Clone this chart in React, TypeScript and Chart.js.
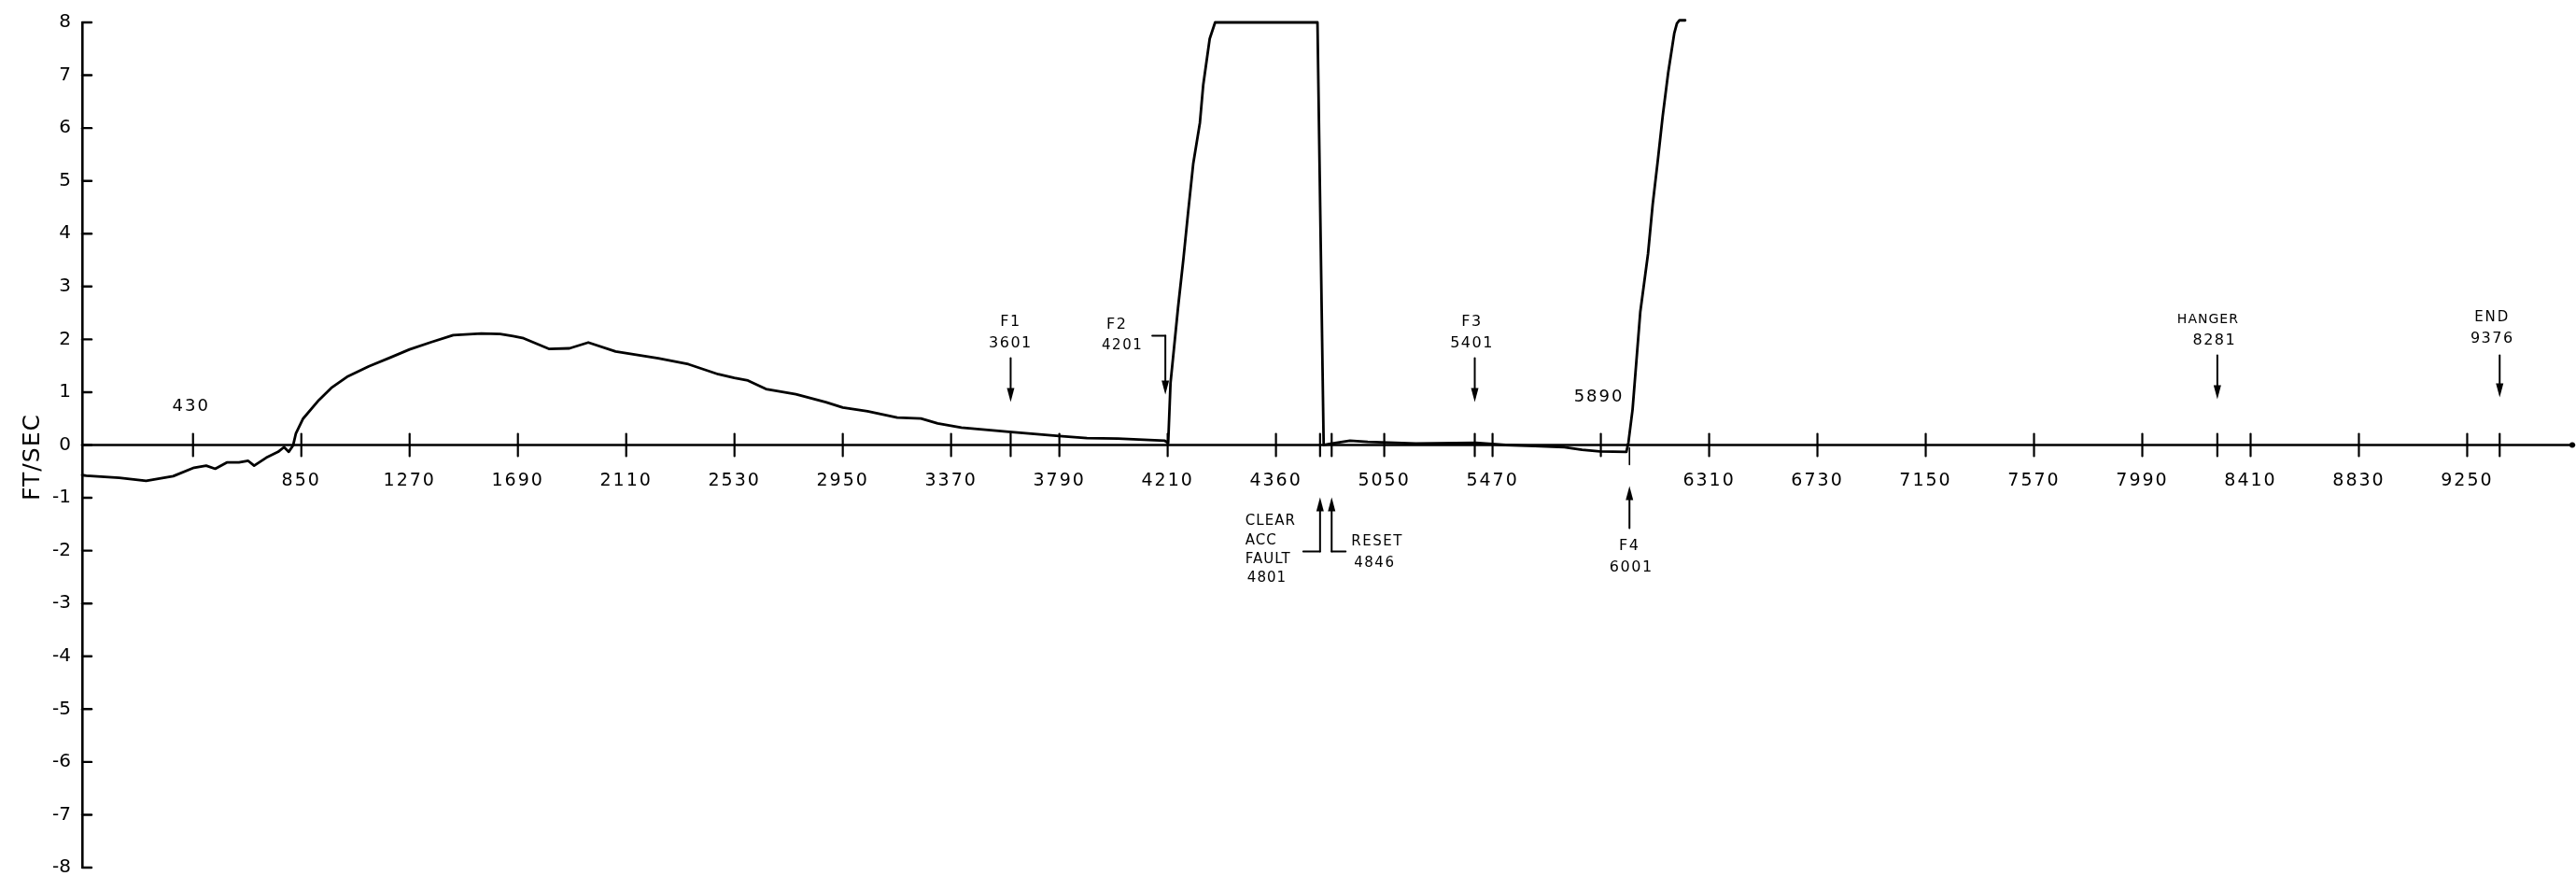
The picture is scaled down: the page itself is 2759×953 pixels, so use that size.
import { useEffect, useRef } from "react";
import { Chart, registerables } from "chart.js";

Chart.register(...registerables);

// Recorded speed (FT/SEC) against count
const counts = [
  0, 16, 144, 248, 353, 434, 481, 516, 561, 608, 644, 667, 714, 760, 783, 801, 818, 829, 857, 918,
  966, 1027, 1112, 1197, 1270, 1355, 1439, 1548, 1621, 1671, 1712, 1810, 1890, 1963, 2069, 2234,
  2351, 2467, 2529, 2582, 2652, 2768, 2884, 2950, 3046, 3161, 3253, 3318, 3410, 3594, 3789, 3897,
  4017, 4199, 4212, 4221, 4250, 4271, 4289, 4309, 4335, 4348, 4373, 4394, 4791, 4815, 4836, 4917,
  4986, 5172, 5405, 5520, 5634, 5749, 5817, 5886, 5989, 5997, 6013, 6043, 6073, 6091, 6111, 6130,
  6151, 6175, 6185, 6195, 6217,
];
const speed = [
  -0.57, -0.58, -0.62, -0.68, -0.59, -0.43, -0.39, -0.45, -0.33, -0.33, -0.3, -0.39, -0.24, -0.13,
  -0.04, -0.13, -0.01, 0.22, 0.5, 0.85, 1.08, 1.29, 1.49, 1.66, 1.81, 1.95, 2.08, 2.11, 2.1, 2.06,
  2.02, 1.82, 1.83, 1.94, 1.77, 1.64, 1.53, 1.34, 1.27, 1.22, 1.06, 0.96, 0.81, 0.71, 0.64, 0.52,
  0.5, 0.41, 0.33, 0.25, 0.17, 0.13, 0.12, 0.08, 0.04, 1.17, 2.59, 3.52, 4.39, 5.32, 6.1, 6.82,
  7.69, 8.0, 8.0, 0.0, 0.02, 0.08, 0.06, 0.03, 0.04, 0.0, -0.02, -0.04, -0.09, -0.12, -0.13, 0.05,
  0.67, 2.52, 3.62, 4.55, 5.39, 6.23, 7.04, 7.8, 7.98, 8.04, 8.04,
];

// Numbered marks along the zero line, with the numbers as written
const tickCounts = [
  430, 850, 1270, 1690, 2110, 2530, 2950, 3370, 3790, 4210, 4630, 5050, 5470, 5890, 6310, 6730,
  7150, 7570, 7990, 8410, 8830, 9250,
];
const tickLabels = [
  "430", "850", "1270", "1690", "2110", "2530", "2950", "3370", "3790", "4210", "4360", "5050",
  "5470", "5890", "6310", "6730", "7150", "7570", "7990", "8410", "8830", "9250",
];
// Numbers written above the line instead of below
const raisedLabels = ["430", "5890"];

// Noted events along the run
const eventNames = ["F1", "F2", "CLEAR ACC FAULT", "RESET", "F3", "F4", "HANGER", "END"];
const eventCounts = [3601, 4201, 4801, 4846, 5401, 6001, 8281, 9376];

const yMin = -8;
const yMax = 8;
const countMax = 9672;

const W = 2759;
const H = 953;
const INK = "#000";
const FONT = '"DejaVu Sans", sans-serif';

function seg(ctx: CanvasRenderingContext2D, x1: number, y1: number, x2: number, y2: number) {
  ctx.beginPath();
  ctx.moveTo(x1, y1);
  ctx.lineTo(x2, y2);
  ctx.stroke();
}

function text(
  ctx: CanvasRenderingContext2D,
  s: string,
  x: number,
  y: number,
  size: number,
  align: CanvasTextAlign = "center",
  spacing = 1.5,
) {
  ctx.font = `${size}px ${FONT}`;
  (ctx as any).letterSpacing = `${spacing}px`;
  ctx.textAlign = align;
  ctx.textBaseline = "middle";
  ctx.fillText(s, x, y);
}

// arrow shaft from (x, y1) ending in a filled head at (x, tip)
function arrow(ctx: CanvasRenderingContext2D, x: number, y1: number, tip: number) {
  const dir = tip > y1 ? 1 : -1;
  ctx.lineWidth = 2;
  seg(ctx, x, y1, x, tip - dir * 10);
  ctx.beginPath();
  ctx.moveTo(x - 4, tip - dir * 15);
  ctx.lineTo(x + 4, tip - dir * 15);
  ctx.lineTo(x, tip);
  ctx.closePath();
  ctx.fill();
}

function drawEvent(ctx: CanvasRenderingContext2D, name: string, count: number, px: number, y0: number) {
  const num = String(count);
  ctx.lineWidth = 2;
  switch (name) {
    case "F1":
    case "F3": {
      const dx = name === "F1" ? 0 : -3;
      text(ctx, name, px + dx, y0 - 132, 16);
      text(ctx, num, px + dx, y0 - 109, 16);
      arrow(ctx, px, y0 - 93, y0 - 46);
      break;
    }
    case "F2": {
      text(ctx, name, px - 52, y0 - 129, 16);
      text(ctx, num, px - 46, y0 - 106, 15);
      seg(ctx, px - 14, y0 - 117, px, y0 - 117);
      arrow(ctx, px, y0 - 117, y0 - 54);
      break;
    }
    case "F4": {
      text(ctx, name, px, y0 + 108, 16);
      text(ctx, num, px + 2, y0 + 131, 16);
      arrow(ctx, px, y0 + 89, y0 + 44);
      break;
    }
    case "CLEAR ACC FAULT": {
      const lines = name.split(" ");
      lines.forEach((l, i) => text(ctx, l, px - 80, y0 + 82 + i * 20.5, 15, "left", 1));
      text(ctx, num, px - 78, y0 + 143, 15, "left", 1);
      seg(ctx, px - 18, y0 + 114, px, y0 + 114);
      arrow(ctx, px, y0 + 114, y0 + 56);
      break;
    }
    case "RESET": {
      text(ctx, name, px + 21, y0 + 104, 15, "left", 1.5);
      text(ctx, num, px + 24, y0 + 127, 15, "left", 1.5);
      seg(ctx, px + 15, y0 + 114, px, y0 + 114);
      arrow(ctx, px, y0 + 114, y0 + 56);
      break;
    }
    case "HANGER": {
      text(ctx, name, px - 10, y0 - 134, 14, "center", 1);
      text(ctx, num, px - 3, y0 - 112, 16);
      arrow(ctx, px, y0 - 96, y0 - 49);
      break;
    }
    case "END": {
      text(ctx, name, px - 8, y0 - 136, 15, "center", 2);
      text(ctx, num, px - 8, y0 - 114, 16);
      arrow(ctx, px, y0 - 96, y0 - 51);
      break;
    }
  }
}

const axisDecor = {
  id: "axisDecor",
  afterDatasetsDraw(chart: any) {
    const { ctx, chartArea, scales } = chart;
    const x = scales.x;
    const y = scales.y;
    const y0 = y.getPixelForValue(0);
    ctx.save();
    ctx.strokeStyle = INK;
    ctx.fillStyle = INK;
    ctx.lineCap = "round";

    // zero line running the full width
    ctx.lineWidth = 2.6;
    seg(ctx, chartArea.left, y0, chartArea.right - 2, y0);
    ctx.beginPath();
    ctx.arc(chartArea.right - 4, y0, 3, 0, Math.PI * 2);
    ctx.fill();

    // crossing marks for numbered counts and events
    ctx.lineWidth = 2.2;
    const crossing = [...tickCounts, ...eventCounts.filter((c) => c !== 4201 && c !== 6001)];
    crossing.forEach((c) => {
      const px = x.getPixelForValue(c);
      seg(ctx, px, y0 - 12, px, y0 + 12);
    });
    // half mark under the line at F4
    const f4 = x.getPixelForValue(eventCounts[eventNames.indexOf("F4")]);
    ctx.lineWidth = 1.6;
    seg(ctx, f4, y0 + 3, f4, y0 + 21);

    // inward marks on the speed axis
    ctx.lineWidth = 2.4;
    for (let k = yMin; k <= yMax; k++) {
      const py = y.getPixelForValue(k);
      seg(ctx, chartArea.left, py, chartArea.left + 10, py);
    }

    // count numbers
    tickCounts.forEach((c, i) => {
      const px = x.getPixelForValue(c);
      const label = tickLabels[i];
      if (raisedLabels.includes(label)) {
        text(ctx, label, px - 2, label === "430" ? y0 - 41 : y0 - 51, 18, "center", 2);
      } else {
        text(ctx, label, px, y0 + 39, 19, "center", 2);
      }
    });

    // event callouts
    eventNames.forEach((name, i) => {
      drawEvent(ctx, name, eventCounts[i], x.getPixelForValue(eventCounts[i]), y0);
    });

    // unit caption
    ctx.save();
    ctx.translate(35, y0 + 13);
    ctx.rotate(-Math.PI / 2);
    text(ctx, "FT/SEC", 0, 0, 25, "center", 1);
    ctx.restore();

    ctx.restore();
  },
};

export default function App() {
  const ref = useRef<HTMLCanvasElement>(null);

  useEffect(() => {
    const canvas = ref.current;
    if (!canvas) return;
    Chart.defaults.color = INK;
    const chart = new Chart(canvas, {
      type: "line",
      data: {
        datasets: [
          {
            data: counts.map((c, i) => ({ x: c, y: speed[i] })),
            borderColor: INK,
            borderWidth: 2.8,
            pointRadius: 0,
            tension: 0,
            clip: false as any,
            borderJoinStyle: "round",
            borderCapStyle: "round",
          },
        ],
      },
      options: {
        animation: false,
        responsive: false,
        devicePixelRatio: 1,
        events: [],
        layout: { padding: { top: 18, bottom: 15, left: 0, right: 0 } },
        plugins: { legend: { display: false }, tooltip: { enabled: false } },
        scales: {
          x: { type: "linear", min: 0, max: countMax, display: false },
          y: {
            type: "linear",
            position: "left",
            min: yMin,
            max: yMax,
            afterFit: (scale: any) => {
              scale.width = 88;
            },
            ticks: {
              stepSize: 1,
              padding: 12,
              color: INK,
              font: { family: FONT, size: 20 },
            },
            grid: { drawOnChartArea: false, drawTicks: false },
            border: { display: true, color: INK, width: 2.6 },
          },
        },
      },
      plugins: [axisDecor],
    });
    return () => chart.destroy();
  }, []);

  return (
    <div style={{ position: "fixed", left: 0, top: 0, width: W, height: H, background: "#fff" }}>
      <canvas ref={ref} width={W} height={H} style={{ display: "block", width: W, height: H }} />
    </div>
  );
}
